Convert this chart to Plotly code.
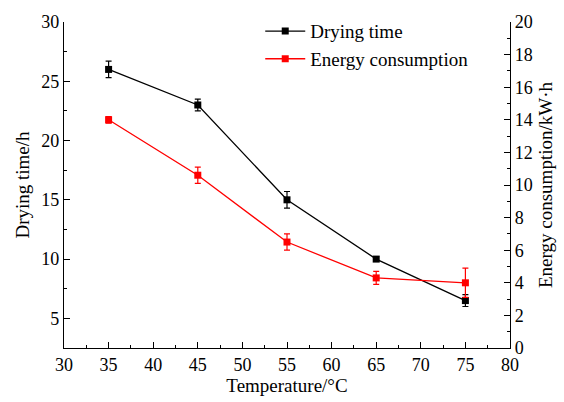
import plotly.graph_objects as go

temperature = [35, 45, 55, 65, 75]
drying_time = [26.0, 23.0, 15.0, 10.0, 6.5]
drying_err = [0.7, 0.5, 0.7, 0.2, 0.5]
energy = [14.0, 10.6, 6.5, 4.3, 4.0]
energy_err = [0.2, 0.5, 0.5, 0.4, 0.9]

FONT = "Liberation Serif, Times New Roman, serif"

fig = go.Figure()
fig.add_trace(go.Scatter(
    x=temperature, y=drying_time, name="Drying time", mode="lines+markers",
    line=dict(color="black", width=1.3),
    marker=dict(symbol="square", size=7, color="black"),
    error_y=dict(type="data", array=drying_err, color="black", thickness=1.2, width=3),
))
fig.add_trace(go.Scatter(
    x=temperature, y=energy, name="Energy consumption", mode="lines+markers",
    yaxis="y2",
    line=dict(color="#ff0000", width=1.3),
    marker=dict(symbol="square", size=7, color="#ff0000"),
    error_y=dict(type="data", array=energy_err, color="#ff0000", thickness=1.2, width=3),
))

axis_common = dict(
    showline=True, linecolor="black", linewidth=1.3, ticks="inside",
    ticklen=6, tickwidth=1.2, tickcolor="black", showgrid=False, zeroline=False,
    automargin=False,
    tickfont=dict(family=FONT, size=18, color="black"),
    title_font=dict(family=FONT, size=19, color="black"),
)

fig.update_layout(
    width=564, height=402,
    margin=dict(l=64, r=54, t=16, b=54),
    paper_bgcolor="white", plot_bgcolor="white",
    showlegend=True,
    legend=dict(x=0.44, y=1.03, xanchor="left", yanchor="top",
                font=dict(family=FONT, size=19, color="black"),
                bgcolor="rgba(0,0,0,0)", tracegroupgap=0, itemwidth=40),
    xaxis=dict(range=[30, 80], dtick=5, title=dict(text="Temperature/°C", standoff=4),
               minor=dict(ticks="inside", dtick=2.5, ticklen=3, tickcolor="black"),
               **axis_common),
    yaxis=dict(range=[2.5, 30], tick0=5, dtick=5, title=dict(text="Drying time/h", standoff=6),
               minor=dict(ticks="inside", dtick=2.5, tick0=2.5, ticklen=3, tickcolor="black"),
               **axis_common),
    yaxis2=dict(range=[0, 20], dtick=2, overlaying="y", side="right",
                title=dict(text="Energy consumption/kW·h", standoff=6),
                minor=dict(ticks="inside", dtick=1, ticklen=3, tickcolor="black"),
                **axis_common),
)

fig.write_html("out.html")
